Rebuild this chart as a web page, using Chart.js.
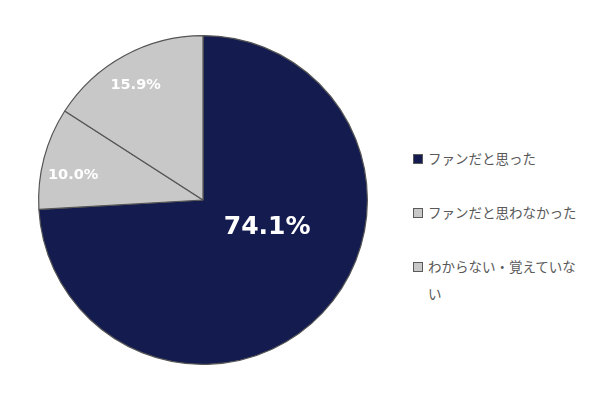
<!DOCTYPE html>
<html>
<head>
<meta charset="utf-8">
<script src="https://cdn.jsdelivr.net/npm/chart.js@4.4.1/dist/chart.umd.min.js"></script>
<style>
  body { margin: 0; background: #fff; }
  #wrap { position: relative; width: 598px; height: 399px; }
  #chartBox { position: absolute; left: 0; top: 0; width: 406px; height: 399px; }
  #legend { position: absolute; left: 410px; top: 145px; width: 180px;
    font-family: "Noto Sans CJK JP", sans-serif; font-size: 13.5px; color: #595959; }
  .item { display: flex; align-items: flex-start; margin-bottom: 27px; line-height: 27px; }
  .box { flex: none; width: 8px; height: 8px; border: 1px solid #5a5a5a; margin: 9px 5px 0 3px; }
  .txt { width: 152px; }
</style>
</head>
<body>
<div id="wrap">
  <div id="chartBox"><canvas id="myPie"></canvas></div>
  <div id="legend"></div>
</div>
<script>
const categories = ['ファンだと思った', 'ファンだと思わなかった', 'わからない・覚えていない'];
const values = [74.1, 10.0, 15.9];
const colors = ['#131b4f', '#c8c8c8', '#c8c8c8'];

document.addEventListener("DOMContentLoaded", function() {
    // value labels, offset from pie center in units of radius
    const labelSpots = [[0.39, 0.17], [-0.79, -0.15], [-0.41, -0.70]];
    const labelFonts = ['bold 25px "DejaVu Sans"', 'bold 14.5px "DejaVu Sans"', 'bold 14.5px "DejaVu Sans"'];

    const pieLabels = {
        id: 'pieLabels',
        afterDatasetsDraw(chart) {
            const ctx = chart.ctx;
            const arcs = chart.getDatasetMeta(0).data;
            ctx.save();
            ctx.fillStyle = '#ffffff';
            ctx.textAlign = 'center';
            ctx.textBaseline = 'middle';
            arcs.forEach(function(arc, i) {
                const r = arc.outerRadius;
                ctx.font = labelFonts[i];
                ctx.fillText(values[i].toFixed(1) + '%', arc.x + labelSpots[i][0] * r, arc.y + labelSpots[i][1] * r);
            });
            ctx.restore();
        }
    };

    new Chart(document.getElementById('myPie'), {
        type: 'pie',
        data: {
            labels: categories,
            datasets: [{
                data: values,
                backgroundColor: colors,
                borderColor: '#555555',
                borderWidth: 1.2
            }]
        },
        options: {
            responsive: true,
            maintainAspectRatio: false,
            animation: false,
            layout: { padding: { top: 35, bottom: 34, left: 0, right: 0 } },
            plugins: {
                legend: { display: false },
                tooltip: { enabled: false }
            }
        },
        plugins: [pieLabels]
    });

    const legend = document.getElementById('legend');
    categories.forEach(function(name, i) {
        const row = document.createElement('div');
        row.className = 'item';
        row.innerHTML = '<span class="box" style="background:' + colors[i] + '"></span><span class="txt">' + name + '</span>';
        legend.appendChild(row);
    });
});
</script>
</body>
</html>
